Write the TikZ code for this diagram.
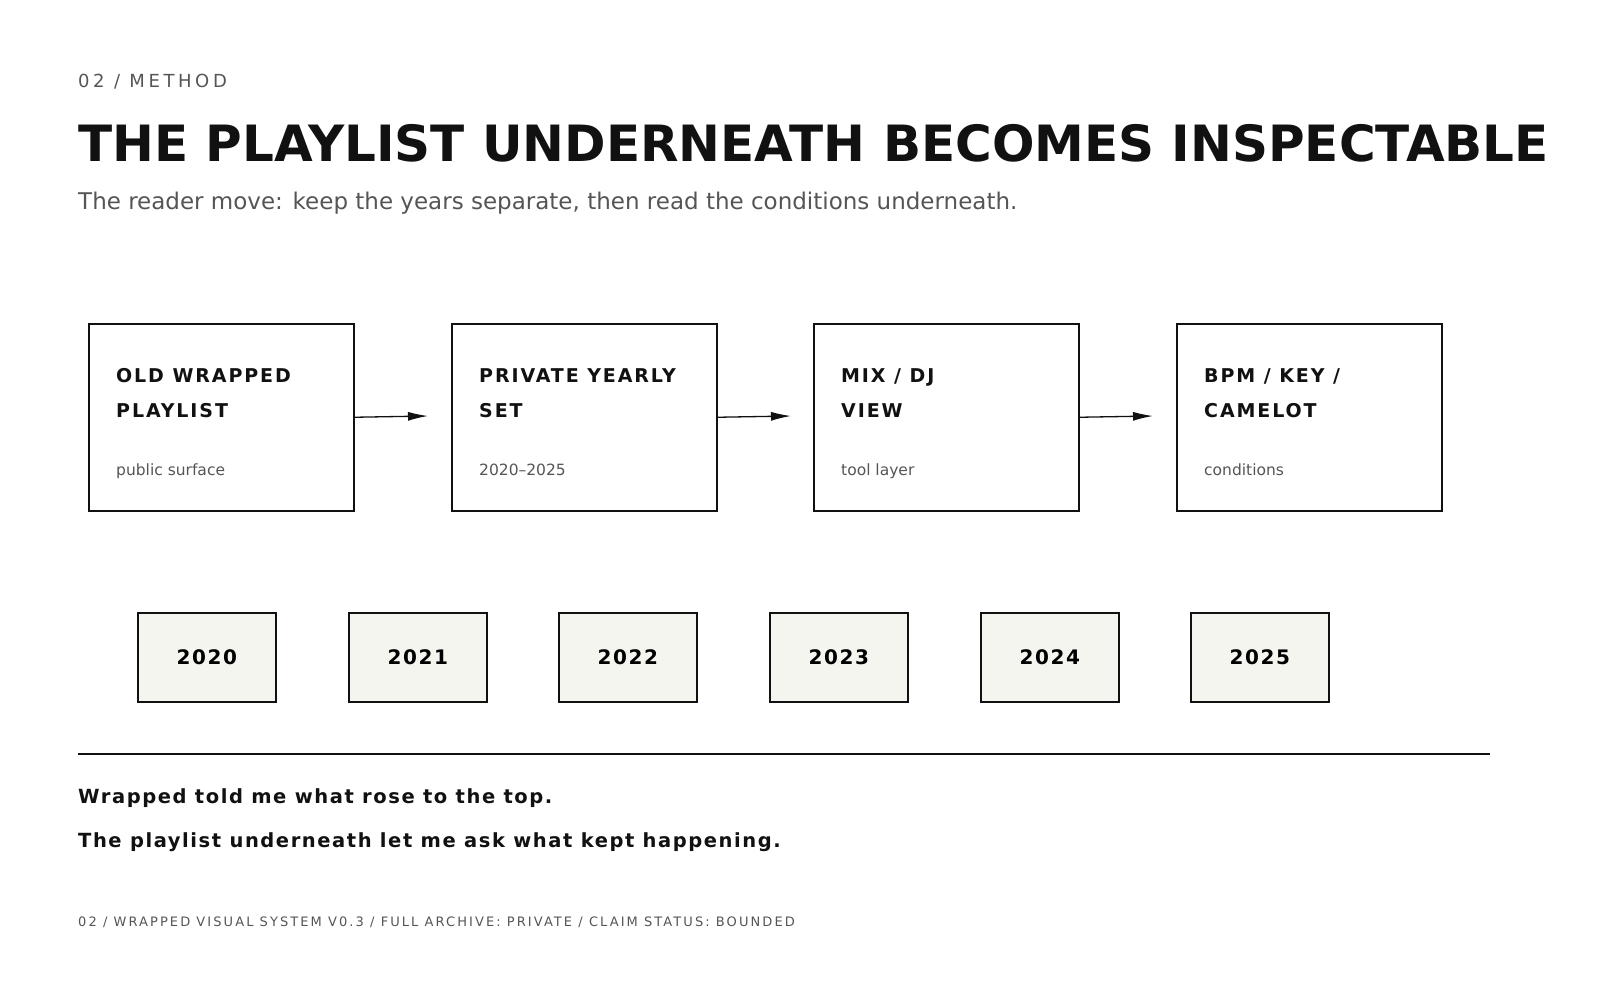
\documentclass[tikz,border=0pt]{standalone}
\usepackage{fontspec}
\setmainfont{DejaVu Sans}
\usetikzlibrary{arrows.meta}
\definecolor{ink}{HTML}{111111}
\definecolor{grey}{HTML}{555555}
\definecolor{yearfill}{HTML}{F5F5F0}
\begin{document}
\begin{tikzpicture}[x=1pt,y=-1pt,
  bigbox/.style={draw=ink,line width=1.5pt,minimum width=265pt,minimum height=187pt,anchor=north west,inner sep=0},
  yearbox/.style={draw=ink,line width=1.5pt,fill=yearfill,minimum width=138pt,minimum height=89pt,anchor=north west,inner sep=0,font=\fontsize{20}{24}\selectfont\bfseries\addfontfeature{LetterSpace=8}},
  btitle/.style={anchor=base west,font=\fontsize{19}{22}\selectfont\bfseries\addfontfeature{LetterSpace=10},text=ink,inner sep=0},
  bsub/.style={anchor=base west,font=\fontsize{15.5}{18}\selectfont,text=grey,inner sep=0},
  conn/.style={line width=1.3pt,draw=ink,-{Latex[length=20pt,width=9pt]}}]
\useasboundingbox (0,0) rectangle (1600,1000);
\node[anchor=base west,inner sep=0,text=grey,font=\fontsize{18}{20}\selectfont\addfontfeature{LetterSpace=20}] (kicker) at (78,88) {02 / METHOD};
\node[anchor=base west,inner sep=0,text=ink,font=\fontsize{50}{60}\selectfont\bfseries] (title) at (78,162) {THE PLAYLIST UNDERNEATH BECOMES INSPECTABLE};
\node[anchor=base west,inner sep=0,text=grey,font=\fontsize{23}{26}\selectfont] (sub) at (78,210) {The reader move: keep the years separate, then read the conditions underneath.};
\foreach \n/\x/\a/\b/\c in {a/88/{OLD WRAPPED}/{PLAYLIST}/{public surface}, b/451/{PRIVATE YEARLY}/{SET}/{2020–2025}, c/813/{MIX / DJ}/{VIEW}/{tool layer}, d/1176/{BPM / KEY /}/{CAMELOT}/{conditions}}{
  \node[bigbox] (\n) at (\x,323) {};
  \node[btitle] (\n t) at (\x+28,382) {\a};
  \node[btitle] (\n u) at (\x+28,417) {\b};
  \node[bsub] (\n s) at (\x+28,475) {\c};
}
\coordinate (ae) at (428,416);\coordinate (be) at (791,416);\coordinate (ce) at (1153,416);
\draw[conn] (a.east) -- (ae);
\draw[conn] (b.east) -- (be);
\draw[conn] (c.east) -- (ce);
\foreach \y/\x in {2020/137,2021/348,2022/558,2023/769,2024/980,2025/1190}{
  \node[yearbox] (y\y) at (\x,612) {\y};
}
\coordinate (l1) at (78,754);\coordinate (l2) at (1490,754);
\draw[line width=1.5pt,ink] (l1) -- (l2);
\node[anchor=base west,inner sep=0,text=ink,font=\fontsize{19.5}{22}\selectfont\bfseries\addfontfeature{LetterSpace=8}] (q1) at (78,803) {Wrapped told me what rose to the top.};
\node[anchor=base west,inner sep=0,text=ink,font=\fontsize{19.5}{22}\selectfont\bfseries\addfontfeature{LetterSpace=8}] (q2) at (78,847) {The playlist underneath let me ask what kept happening.};
\node[anchor=base west,inner sep=0,text=grey,font=\fontsize{13}{14}\selectfont\addfontfeature{LetterSpace=16}] (foot) at (78,926) {02 / WRAPPED VISUAL SYSTEM V0.3 / FULL ARCHIVE: PRIVATE / CLAIM STATUS: BOUNDED};
\end{tikzpicture}
\end{document}
